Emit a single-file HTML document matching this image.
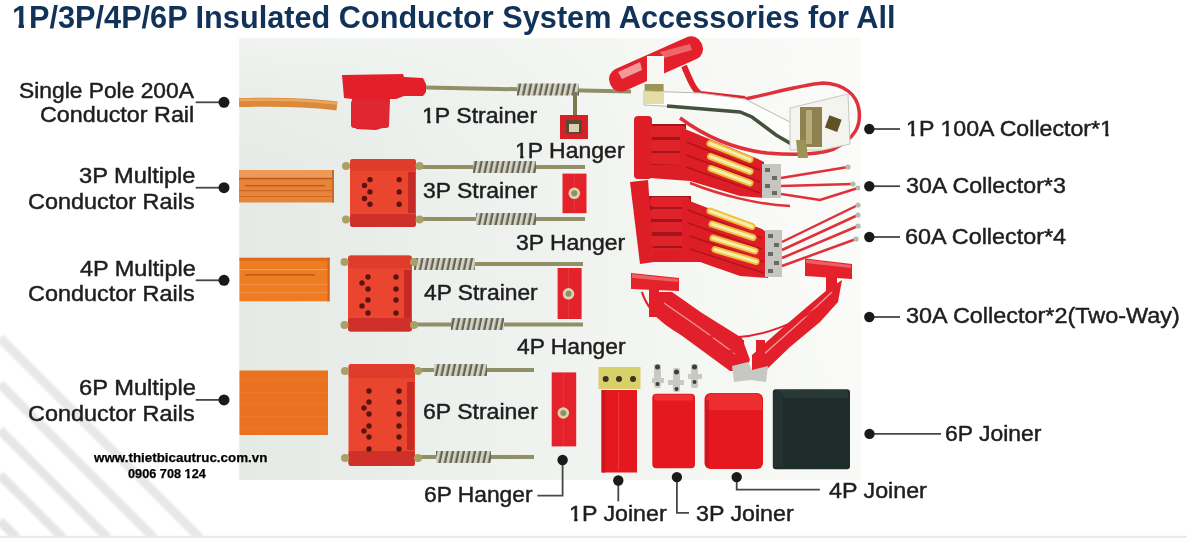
<!DOCTYPE html>
<html><head><meta charset="utf-8"><style>
html,body{margin:0;padding:0;background:#fff;}
#w{position:relative;width:1187px;height:538px;overflow:hidden;background:#fff;font-family:"Liberation Sans",sans-serif;}
.t{position:absolute;white-space:nowrap;transform-origin:0 0;}
svg{position:absolute;left:0;top:0;}
</style></head><body><div id="w">
<svg width="1187" height="538" viewBox="0 0 1187 538">
<defs>
 <linearGradient id="bg" x1="0" y1="0" x2="1" y2="0">
  <stop offset="0" stop-color="#e5eae6"/><stop offset="0.2" stop-color="#e8ede9"/><stop offset="0.35" stop-color="#edf1ed"/><stop offset="0.55" stop-color="#f0f3ef"/><stop offset="0.75" stop-color="#f5f7f3"/><stop offset="1" stop-color="#f9faf7"/>
 </linearGradient>
 <linearGradient id="bgv" x1="0" y1="0" x2="0" y2="1">
  <stop offset="0" stop-color="#f1f4f0" stop-opacity="0.9"/><stop offset="0.12" stop-color="#f1f4f0" stop-opacity="0.45"/><stop offset="0.3" stop-color="#f1f4f0" stop-opacity="0"/>
 </linearGradient>
 <pattern id="spr" width="5.5" height="12" patternUnits="userSpaceOnUse" patternTransform="skewX(-12)">
  <rect width="5.5" height="12" fill="#d4d2c2"/><rect x="3.2" width="2.3" height="12" fill="#626256"/>
 </pattern>
<linearGradient id="sfade" gradientUnits="userSpaceOnUse" x1="0" y1="538" x2="230" y2="300">
  <stop offset="0" stop-color="#fff"/><stop offset="0.55" stop-color="#fff" stop-opacity="0.8"/><stop offset="1" stop-color="#fff" stop-opacity="0"/>
 </linearGradient>
<filter id="sblur" x="-0.1" y="-0.1" width="1.2" height="1.2"><feGaussianBlur stdDeviation="1.2"/></filter>
<linearGradient id="trhl" gradientUnits="userSpaceOnUse" x1="861" y1="38" x2="640" y2="230">
  <stop offset="0" stop-color="#fcfcf9" stop-opacity="0.85"/><stop offset="0.5" stop-color="#fcfcf9" stop-opacity="0.45"/><stop offset="1" stop-color="#fcfcf9" stop-opacity="0"/>
 </linearGradient>
</defs>
<!-- diagonal stripes lower-left -->
<mask id="smask"><rect width="1187" height="538" fill="url(#sfade)"/></mask>
<g stroke="#e4e4e4" stroke-width="9" stroke-linecap="butt" mask="url(#smask)" filter="url(#sblur)">
 <line x1="0" y1="338" x2="200" y2="538"/>
 <line x1="0" y1="384" x2="154" y2="538"/>
 <line x1="0" y1="430" x2="108" y2="538"/>
 <line x1="0" y1="475" x2="63" y2="538"/>
 <line x1="0" y1="521" x2="17" y2="538"/>
</g>
<rect x="0" y="535.8" width="1187" height="2.2" fill="#ebebeb"/>
<!-- photo -->
<rect x="239.3" y="38.5" width="621.7" height="441.5" fill="url(#bg)"/>
<rect x="239.3" y="38.5" width="621.7" height="441.5" fill="url(#bgv)"/>
<rect x="239.3" y="38.5" width="621.7" height="441.5" fill="url(#trhl)"/>
<!-- 1P cable -->
<path d="M239 102.6 Q300 101 337 106" stroke="#dc8a3a" stroke-width="9" fill="none"/>
<path d="M239 100 Q300 98.5 337 103.5" stroke="#eba65e" stroke-width="2.5" fill="none"/>
<!-- 1P strainer -->
<path d="M342 75 L403 74 L404 77 L423 78 L426 84 L426 92 L423 96 L404 96 L396 99 L390 99 L389 126 L376 130 L356 129 L352 99 L344 98 Z" fill="#e3202a"/>
<rect x="351" y="100" width="38" height="28" rx="3" fill="#e02631"/>
<!-- rods -->
<g stroke="#8f8f68" stroke-width="4" fill="none">
 <line x1="426" y1="87.5" x2="631" y2="91.5"/>
 <line x1="414" y1="167" x2="585" y2="167"/>
 <line x1="414" y1="219" x2="585" y2="219"/>
 <line x1="412" y1="264" x2="583" y2="264"/>
 <line x1="412" y1="324.5" x2="583" y2="324.5"/>
 <line x1="414" y1="370" x2="534" y2="370"/>
 <line x1="414" y1="457" x2="534" y2="457"/>
</g>
<!-- springs -->
<g fill="url(#spr)">
 <rect x="517" y="83.5" width="62" height="12"/>
 <rect x="473" y="161" width="63" height="12"/>
 <rect x="476" y="213" width="60" height="12"/>
 <rect x="414" y="258" width="61" height="12"/>
 <rect x="451" y="318" width="53" height="12"/>
 <rect x="434" y="364" width="53" height="12"/>
 <rect x="436" y="451" width="55" height="12"/>
</g>
<!-- rails -->
<g>
 <rect x="239" y="170" width="95" height="32.5" fill="#e8843a"/>
 <rect x="239" y="170" width="95" height="8" fill="#ec9a56"/>
 <rect x="239" y="177.8" width="95" height="1.4" fill="#b9581c"/>
 <rect x="245" y="185" width="80" height="1.4" fill="#b0501c" opacity="0.8"/>
 <rect x="239" y="190.2" width="95" height="1" fill="#c8621e"/>
 <rect x="239" y="196" width="95" height="1" fill="#d06a24"/>
 <rect x="332" y="170" width="2" height="32.5" fill="#c86a2a"/>
</g>
<g>
 <rect x="239.5" y="257.8" width="90" height="43.5" fill="#ee7d22"/>
 <rect x="239.5" y="257.8" width="90" height="3" fill="#e06818"/>
 <rect x="239.5" y="269" width="90" height="1.2" fill="#f6a060"/>
 <rect x="245" y="274" width="70" height="1.6" fill="#b8501a" opacity="0.8"/>
 <rect x="239.5" y="284" width="90" height="1" fill="#f39048"/>
 <rect x="239.5" y="292" width="90" height="1" fill="#f39048"/>
 <rect x="327.5" y="257.8" width="2" height="43.5" fill="#d0601a"/>
</g>
<g>
 <rect x="239.5" y="370.5" width="88.5" height="64.5" fill="#e9711f"/>
 <rect x="239.5" y="380" width="88.5" height="1" fill="#f08a3a" opacity="0.35"/>
 <rect x="239.5" y="392" width="88.5" height="1" fill="#f08a3a" opacity="0.35"/>
 <rect x="239.5" y="404" width="88.5" height="1" fill="#f08a3a" opacity="0.35"/>
 <rect x="239.5" y="416" width="88.5" height="1" fill="#f08a3a" opacity="0.35"/>
 <rect x="239.5" y="428" width="88.5" height="1" fill="#f08a3a" opacity="0.35"/>
</g>
<!-- strainer blocks -->
<g fill="#e9452f">
 <rect x="350" y="159" width="66" height="68" rx="3"/>
 <rect x="348" y="255.5" width="64" height="76" rx="3"/>
 <rect x="348.5" y="364" width="66.5" height="102" rx="3"/>
</g>
<g fill="#c52a26">
 <rect x="408" y="172" width="7" height="41"/>
 <rect x="404" y="270" width="7" height="48"/>
 <rect x="407" y="382" width="7" height="68"/>
</g>
<g fill="#df3b2b" opacity="0.8">
 <rect x="350" y="159" width="66" height="12" rx="3"/>
 <rect x="348" y="255.5" width="64" height="13" rx="3"/>
 <rect x="348.5" y="364" width="66.5" height="14" rx="3"/>
</g>
<g fill="#d0302a">
 <rect x="350" y="214" width="66" height="13" rx="3"/>
 <rect x="348" y="318" width="64" height="13.5" rx="3"/>
 <rect x="348.5" y="451" width="66.5" height="15" rx="3"/>
</g>
<!-- bolts -->
<g fill="#a8a064">
 <circle cx="346" cy="166" r="4"/><circle cx="346" cy="219.5" r="4"/><circle cx="419.5" cy="166" r="4"/><circle cx="419.5" cy="219.5" r="4"/>
 <circle cx="344.5" cy="262" r="4"/><circle cx="344.5" cy="325" r="4"/><circle cx="414" cy="262" r="4"/><circle cx="414" cy="325" r="4"/>
 <circle cx="345" cy="371" r="4"/><circle cx="345" cy="458" r="4"/><circle cx="418" cy="371" r="4"/><circle cx="418" cy="458" r="4"/>
</g>
<!-- holes -->
<g fill="#5a1410">
 <circle cx="370" cy="179.6" r="2.7"/><circle cx="364.5" cy="185.5" r="2.7"/><circle cx="370" cy="191.9" r="2.7"/><circle cx="364.5" cy="198.5" r="2.7"/><circle cx="370" cy="204.2" r="2.7"/>
 <circle cx="399.2" cy="179.6" r="2.7"/><circle cx="399.2" cy="191.9" r="2.7"/><circle cx="399.2" cy="204.2" r="2.7"/>
 <circle cx="368" cy="277" r="2.7"/><circle cx="362" cy="283" r="2.7"/><circle cx="368" cy="289" r="2.7"/><circle cx="368" cy="300" r="2.7"/><circle cx="362" cy="306" r="2.7"/><circle cx="368" cy="313" r="2.7"/>
 <circle cx="396" cy="277" r="2.7"/><circle cx="396" cy="289" r="2.7"/><circle cx="396" cy="300" r="2.7"/><circle cx="396" cy="313" r="2.7"/>
 <circle cx="369" cy="391" r="2.7"/><circle cx="369" cy="402" r="2.7"/><circle cx="364" cy="408" r="2.7"/><circle cx="369" cy="414" r="2.7"/><circle cx="369" cy="426" r="2.7"/><circle cx="364" cy="431" r="2.7"/><circle cx="369" cy="437" r="2.7"/><circle cx="369" cy="449" r="2.7"/>
 <circle cx="399" cy="391" r="2.7"/><circle cx="399" cy="402" r="2.7"/><circle cx="399" cy="414" r="2.7"/><circle cx="399" cy="426" r="2.7"/><circle cx="399" cy="437" r="2.7"/><circle cx="399" cy="449" r="2.7"/>
</g>
<!-- hangers -->
<line x1="575" y1="92" x2="575" y2="116" stroke="#7c7a4c" stroke-width="4"/>
<rect x="560" y="115" width="28" height="24" fill="#d8202a"/>
<rect x="566" y="120" width="16" height="14" fill="#5a4a30"/>
<rect x="569" y="124" width="10" height="8" fill="#d8d0b0"/>
<rect x="562.5" y="173.6" width="24" height="39.6" fill="#e3222c"/>
<line x1="574.3" y1="174" x2="574.3" y2="213" stroke="#f0555a" stroke-width="0.8" opacity="0.5"/><circle cx="574.3" cy="193.3" r="5.8" fill="#ddd3a8"/><circle cx="574.3" cy="193.3" r="3" fill="#8d9070"/>
<rect x="557.6" y="268" width="24" height="51" fill="#e3222c"/>
<line x1="568.5" y1="268.5" x2="568.5" y2="318.5" stroke="#f0555a" stroke-width="0.8" opacity="0.5"/><circle cx="568.5" cy="293.8" r="5.8" fill="#ddd3a8"/><circle cx="568.5" cy="293.8" r="3" fill="#8d9070"/>
<rect x="551.7" y="372.4" width="24.5" height="74" fill="#e3222c"/>
<line x1="563.3" y1="373" x2="563.3" y2="446" stroke="#f0555a" stroke-width="0.8" opacity="0.5"/><circle cx="563.3" cy="413" r="5.8" fill="#ddd3a8"/><circle cx="563.3" cy="413" r="3" fill="#8d9070"/>
<!-- 1P 100A collector -->
<g stroke="#e0303a" stroke-width="3.5" fill="none">
 <path d="M745 99 C770 94 800 85 823 83 C845 84 857 95 859 110 C861 125 856 138 834 149 C815 156 790 155 767 153 C740 150 710 140 680 118"/>
</g>
<path d="M684 66 C690 80 694 90 700 94 L745 99" stroke="#e0202b" stroke-width="6" fill="none"/>
<rect x="606" y="52" width="100" height="24" rx="11" fill="#e3202b" transform="rotate(-24 656 64)"/>
<path d="M618 72 L640 62 L642 70 L622 79 Z" fill="#f6b8b8" opacity="0.8"/>
<path d="M660 52 L690 44 L692 50 L664 58 Z" fill="#f08888" opacity="0.7"/>
<rect x="647" y="56" width="17" height="30" fill="#f6f6f2"/>
<rect x="644.6" y="84" width="19" height="7" fill="#9c9456"/>
<path d="M644 91 L700 93 L745 99 L786 120 L810 132 L813 140 L806 144 L786 141 L745 113 L700 108 L644 105 Z" fill="#fdfdfb" stroke="#b9b9b0" stroke-width="1"/>
<path d="M644 92 L664 92 L664 104 L644 104 Z" fill="#e2dea6"/>
<path d="M667 106 L740 112 L752 117 L776 135 L800 149" stroke="#46503e" stroke-width="3.5" fill="none"/>
<path d="M790 108 L848 94 L850 144 L823 150 L790 150 Z" fill="#f4f4ef" stroke="#c8c8c0" stroke-width="1"/>
<rect x="800" y="107" width="22" height="40" fill="#8f8250"/>
<rect x="806" y="110" width="6" height="34" fill="#b8ad7c"/>
<rect x="827" y="117" width="13" height="13" fill="#5f5224" transform="rotate(20 833 123)"/>
<path d="M796 140 L806 140 L808 158 L798 158 Z" fill="#9c9456"/>
<!-- 30A collector *3 -->
<rect x="640" y="124" width="46" height="42" fill="#a3141c"/>
<rect x="634" y="116" width="18" height="63" rx="4" fill="#de1e27"/>
<g fill="#e0222b">
 <rect x="650" y="126" width="36" height="11" rx="4"/><rect x="650" y="140" width="36" height="11" rx="4"/><rect x="650" y="153" width="36" height="11" rx="4"/>
</g>
<path d="M680 127 L758 159 L764 162 L765 198 L740 196 L690 181 L650 178 L650 165 L680 164 Z" fill="#de1e27"/>
<g stroke="#a8121a" stroke-width="1.6" opacity="0.8">
 <line x1="686" y1="142" x2="760" y2="170"/><line x1="686" y1="155" x2="760" y2="182"/><line x1="686" y1="167" x2="760" y2="193"/>
</g>
<g stroke="#f0bc3c" stroke-width="7" stroke-linecap="round">
 <line x1="710" y1="143.5" x2="750" y2="159.5"/>
 <line x1="710.5" y1="156.5" x2="750" y2="171.5"/>
 <line x1="711" y1="168.5" x2="750" y2="183"/>
</g>
<g stroke="#f4eeaa" stroke-width="3.2" stroke-linecap="round">
 <line x1="710" y1="143.5" x2="750" y2="159.5"/>
 <line x1="710.5" y1="156.5" x2="750" y2="171.5"/>
 <line x1="711" y1="168.5" x2="750" y2="183"/>
</g>
<rect x="762" y="164" width="19" height="34" fill="#c6c6c0"/>
<g fill="#6a6a62"><rect x="765" y="168" width="5" height="4"/><rect x="772" y="176" width="5" height="4"/><rect x="765" y="184" width="5" height="4"/><rect x="772" y="191" width="5" height="4"/></g>
<g stroke="#e0303a" stroke-width="2.5" fill="none">
 <path d="M781 178 L848 167"/><path d="M781 186 L853 184"/><path d="M781 194 L820 200 L858 188"/>
 <path d="M690 183 C720 195 760 205 790 206"/>
</g>
<g fill="#b8b8b0"><circle cx="848" cy="167" r="2.6"/><circle cx="853" cy="184" r="2.6"/><circle cx="858" cy="188" r="2.4"/></g>
<!-- 60A collector *4 -->
<rect x="645" y="196" width="46" height="63" fill="#a3141c"/>
<path d="M630 182 L648 180 L654 262 L640 264 Z" fill="#de1e27"/>
<g fill="#e0222b">
 <rect x="650" y="197" width="40" height="10" rx="4"/><rect x="650" y="209" width="40" height="10" rx="4"/><rect x="650" y="222" width="40" height="10" rx="4"/><rect x="650" y="236" width="40" height="10" rx="4"/><rect x="650" y="248" width="40" height="10" rx="4"/>
</g>
<path d="M682 198 L762 229 L766 232 L768 278 L740 276 L700 262 L652 262 L652 250 L682 250 Z" fill="#de1e27"/>
<g stroke="#a8121a" stroke-width="1.6" opacity="0.8">
 <line x1="688" y1="210" x2="762" y2="238"/><line x1="688" y1="223" x2="762" y2="249"/><line x1="690" y1="236" x2="764" y2="262"/><line x1="690" y1="249" x2="764" y2="273"/>
</g>
<g stroke="#f0bc3c" stroke-width="7" stroke-linecap="round">
 <line x1="710" y1="211" x2="752" y2="226.5"/>
 <line x1="712" y1="224" x2="753" y2="237.5"/>
 <line x1="713" y1="238" x2="755" y2="251"/>
 <line x1="715" y1="249.5" x2="756" y2="261.5"/>
</g>
<g stroke="#f4eeaa" stroke-width="3.2" stroke-linecap="round">
 <line x1="710" y1="211" x2="752" y2="226.5"/>
 <line x1="712" y1="224" x2="753" y2="237.5"/>
 <line x1="713" y1="238" x2="755" y2="251"/>
 <line x1="715" y1="249.5" x2="756" y2="261.5"/>
</g>
<rect x="765" y="230" width="17" height="47" fill="#c6c6c0"/>
<g fill="#6a6a62"><rect x="768" y="234" width="5" height="4"/><rect x="774" y="243" width="5" height="4"/><rect x="768" y="252" width="5" height="4"/><rect x="774" y="261" width="5" height="4"/><rect x="768" y="269" width="5" height="4"/></g>
<g stroke="#e0303a" stroke-width="2.5" fill="none">
 <path d="M782 242 L858 205"/><path d="M782 250 L858 215"/><path d="M782 258 L858 226"/><path d="M782 266 L856 239"/>
</g>
<g fill="#b8b8b0"><circle cx="858" cy="205" r="2.6"/><circle cx="858" cy="215" r="2.6"/><circle cx="858" cy="226" r="2.6"/><circle cx="856" cy="239" r="2.6"/></g>
<!-- two-way collector -->
<path d="M631 273 L679 278 L679 291 L631 289 Z" fill="#e3222c"/>
<path d="M632 274 L678 279 L678 282 L632 278 Z" fill="#f07a7a" opacity="0.7"/>
<path d="M805 258.6 L852 264 L852 279 L805 276 Z" fill="#e3222c"/>
<path d="M806 259.5 L851 265 L851 268 L806 263 Z" fill="#f07a7a" opacity="0.7"/>
<rect x="649" y="289" width="10" height="28" fill="#e1202b"/>
<rect x="826" y="277" width="11" height="24" fill="#e1202b"/>
<path d="M659 292 L672 292 L702 313 L742 338 L750 360 L744 371 L730 371 L700 349 L670 327 L652 312 Z" fill="#e1202b"/>
<path d="M827 290 L842 280 L838 302 L820 322 L790 347 L766 370 L752 370 L752 355 L780 330 L808 306 Z" fill="#e1202b"/>
<path d="M664 303 L700 328 L738 356" stroke="#f6b0b0" stroke-width="1.4" fill="none" opacity="0.8"/>
<path d="M832 292 L800 322 L762 356" stroke="#f6b0b0" stroke-width="1.4" fill="none" opacity="0.8"/>
<path d="M642 292 C650 320 690 345 735 352" stroke="#e1202b" stroke-width="2.2" fill="none"/>
<rect x="735" y="340" width="9" height="30" fill="#e1202b"/><rect x="756" y="340" width="9" height="30" fill="#e1202b"/>
<path d="M655 315 C700 345 760 350 830 300" stroke="#e1202b" stroke-width="2" fill="none"/>
<path d="M732 366 L748 362 L752 370 L768 366 L766 382 L750 380 L734 382 Z" fill="#c8c8c2"/>
<!-- joiners -->
<rect x="598.5" y="367" width="42" height="22" fill="#d9d06a"/>
<circle cx="605.7" cy="379" r="3" fill="#3a3320"/><circle cx="619" cy="379" r="3" fill="#3a3320"/><circle cx="633" cy="379" r="3" fill="#3a3320"/>
<rect x="601.5" y="390" width="35.5" height="82.5" fill="#e5171f"/>
<rect x="601.5" y="390" width="4" height="82.5" fill="#c9141c" opacity="0.8"/>
<rect x="618" y="392" width="1.2" height="78" fill="#f04a4a" opacity="0.6"/>
<g fill="#c9c9c3">
 <rect x="654" y="364" width="7" height="24" rx="2"/><rect x="652" y="378" width="12" height="5"/>
 <rect x="673" y="368" width="7" height="24" rx="2"/><rect x="668" y="380" width="16" height="5"/>
 <rect x="691" y="364" width="7" height="24" rx="2"/><rect x="688" y="374" width="14" height="5"/>
</g>
<g fill="#3c3c38">
 <circle cx="657.5" cy="367" r="2.5"/><circle cx="657.5" cy="384" r="2"/>
 <circle cx="676.5" cy="372" r="2.5"/><circle cx="676.5" cy="389" r="2"/>
 <circle cx="694.5" cy="367" r="2.5"/><circle cx="694.5" cy="382" r="2"/>
</g>
<rect x="652.3" y="393.7" width="42.7" height="74.5" rx="4" fill="#e5171f"/>
<rect x="654" y="394.5" width="39" height="6" rx="2" fill="#ef3a3c" opacity="0.8"/>
<rect x="704.5" y="393" width="58.5" height="76" rx="6" fill="#e5171f"/>
<path d="M708 395 Q710 393.5 716 393.5 L756 393.5 Q761 394 762 400 L762 410 L706 410 L706 400 Z" fill="#ee3134" opacity="0.85"/>
<rect x="705" y="400" width="4" height="66" fill="#c9141c" opacity="0.7"/>
<rect x="772.8" y="389.3" width="77.2" height="80" rx="3" fill="#1e2c2a"/>
<path d="M776 390 L847 390 L849 398 L785 398 Z" fill="#2a3937"/>
<rect x="773" y="392" width="10" height="75" fill="#243331"/>
<!-- leader lines -->
<g stroke="#474747" stroke-width="1.8" fill="none">
 <line x1="195.7" y1="102.3" x2="224" y2="102.3"/>
 <line x1="195.7" y1="187.7" x2="224" y2="187.7"/>
 <line x1="195.7" y1="280.3" x2="224" y2="280.3"/>
 <line x1="195.7" y1="399.9" x2="224" y2="399.9"/>
 <line x1="869" y1="129" x2="900" y2="129"/>
 <line x1="869" y1="186.2" x2="900" y2="186.2"/>
 <line x1="869" y1="237" x2="900" y2="237"/>
 <line x1="869" y1="317" x2="900" y2="317"/>
 <line x1="869" y1="433.9" x2="941" y2="433.9"/>
 <polyline points="562.6,460 562.6,495.7 537.4,495.7"/>
 <polyline points="618.3,480.5 618.3,501.4"/>
 <polyline points="676.9,477.1 676.9,512.8 689,512.8"/>
 <polyline points="736.7,477.1 736.7,489.6 819.8,489.6"/>
</g>
<g fill="#1a1a1a">
 <circle cx="224" cy="102.3" r="5.5"/><circle cx="224" cy="187.7" r="5.5"/><circle cx="224" cy="280.3" r="5.5"/><circle cx="224" cy="399.9" r="5.5"/>
 <circle cx="869.3" cy="129" r="5.2"/><circle cx="869.3" cy="186.2" r="5.2"/><circle cx="869.3" cy="237" r="5.2"/><circle cx="869.3" cy="317" r="5.2"/><circle cx="869.5" cy="433.9" r="5.2"/>
 <circle cx="562.6" cy="460" r="5.2"/><circle cx="618.3" cy="480.5" r="5.2"/><circle cx="676.9" cy="477.1" r="5.2"/><circle cx="736.7" cy="477.1" r="5.2"/>
</g>
</svg>

<div class="t" style="left:12.31px;top:2.46px;font-size:31px;line-height:31px;font-weight:bold;color:#11335a;transform:scaleX(0.9894)"><span style="display:inline-block;clip-path:polygon(-2px -2px,19.24px -2px,19.24px 20.48px,12.09px 20.48px,12.09px 35.00px,6.64px 35.00px,6.64px 20.48px,-2px 20.48px)">1</span>P/3P/4P/6P Insulated Conductor System Accessories for All</div><div class="t" style="left:19.20px;top:80.80px;font-size:21.5px;line-height:21.5px;font-weight:normal;color:#1e1e1e;transform:scaleX(1.0603);-webkit-text-stroke:0.45px #1e1e1e">Single Pole 200A</div><div class="t" style="left:40.42px;top:105.10px;font-size:21.5px;line-height:21.5px;font-weight:normal;color:#1e1e1e;transform:scaleX(1.0845);-webkit-text-stroke:0.45px #1e1e1e">Conductor Rail</div><div class="t" style="left:78.80px;top:166.10px;font-size:21.5px;line-height:21.5px;font-weight:normal;color:#1e1e1e;transform:scaleX(1.0996);-webkit-text-stroke:0.45px #1e1e1e">3P Multiple</div><div class="t" style="left:28.31px;top:191.60px;font-size:21.5px;line-height:21.5px;font-weight:normal;color:#1e1e1e;transform:scaleX(1.0892);-webkit-text-stroke:0.45px #1e1e1e">Conductor Rails</div><div class="t" style="left:79.60px;top:258.80px;font-size:21.5px;line-height:21.5px;font-weight:normal;color:#1e1e1e;transform:scaleX(1.0920);-webkit-text-stroke:0.45px #1e1e1e">4P Multiple</div><div class="t" style="left:28.31px;top:284.00px;font-size:21.5px;line-height:21.5px;font-weight:normal;color:#1e1e1e;transform:scaleX(1.0892);-webkit-text-stroke:0.45px #1e1e1e">Conductor Rails</div><div class="t" style="left:78.50px;top:378.20px;font-size:21.5px;line-height:21.5px;font-weight:normal;color:#1e1e1e;transform:scaleX(1.1025);-webkit-text-stroke:0.45px #1e1e1e">6P Multiple</div><div class="t" style="left:28.31px;top:403.50px;font-size:21.5px;line-height:21.5px;font-weight:normal;color:#1e1e1e;transform:scaleX(1.0892);-webkit-text-stroke:0.45px #1e1e1e">Conductor Rails</div><div class="t" style="left:422.23px;top:106.20px;font-size:21.5px;line-height:21.5px;font-weight:normal;color:#1e1e1e;transform:scaleX(1.0743);-webkit-text-stroke:0.45px #1e1e1e"><span style="display:inline-block;clip-path:polygon(-2px -2px,13.96px -2px,13.96px 13.99px,7.91px 13.99px,7.91px 25.50px,4.81px 25.50px,4.81px 13.99px,-2px 13.99px)">1</span>P Strainer</div><div class="t" style="left:515.23px;top:140.90px;font-size:21.5px;line-height:21.5px;font-weight:normal;color:#1e1e1e;transform:scaleX(1.0696);-webkit-text-stroke:0.45px #1e1e1e"><span style="display:inline-block;clip-path:polygon(-2px -2px,13.96px -2px,13.96px 13.99px,7.91px 13.99px,7.91px 25.50px,4.81px 25.50px,4.81px 13.99px,-2px 13.99px)">1</span>P Hanger</div><div class="t" style="left:423.20px;top:180.60px;font-size:21.5px;line-height:21.5px;font-weight:normal;color:#1e1e1e;transform:scaleX(1.0671);-webkit-text-stroke:0.45px #1e1e1e">3P Strainer</div><div class="t" style="left:516.30px;top:232.50px;font-size:21.5px;line-height:21.5px;font-weight:normal;color:#1e1e1e;transform:scaleX(1.0670);-webkit-text-stroke:0.45px #1e1e1e">3P Hanger</div><div class="t" style="left:423.50px;top:283.10px;font-size:21.5px;line-height:21.5px;font-weight:normal;color:#1e1e1e;transform:scaleX(1.0606);-webkit-text-stroke:0.45px #1e1e1e">4P Strainer</div><div class="t" style="left:516.50px;top:336.60px;font-size:21.5px;line-height:21.5px;font-weight:normal;color:#1e1e1e;transform:scaleX(1.0602);-webkit-text-stroke:0.45px #1e1e1e">4P Hanger</div><div class="t" style="left:422.63px;top:402.10px;font-size:21.5px;line-height:21.5px;font-weight:normal;color:#1e1e1e;transform:scaleX(1.0715);-webkit-text-stroke:0.45px #1e1e1e">6P Strainer</div><div class="t" style="left:423.54px;top:485.40px;font-size:21.5px;line-height:21.5px;font-weight:normal;color:#1e1e1e;transform:scaleX(1.0598);-webkit-text-stroke:0.45px #1e1e1e">6P Hanger</div><div class="t" style="left:569.22px;top:503.50px;font-size:21.5px;line-height:21.5px;font-weight:normal;color:#1e1e1e;transform:scaleX(1.0795);-webkit-text-stroke:0.45px #1e1e1e"><span style="display:inline-block;clip-path:polygon(-2px -2px,13.96px -2px,13.96px 13.99px,7.91px 13.99px,7.91px 25.50px,4.81px 25.50px,4.81px 13.99px,-2px 13.99px)">1</span>P Joiner</div><div class="t" style="left:695.90px;top:503.60px;font-size:21.5px;line-height:21.5px;font-weight:normal;color:#1e1e1e;transform:scaleX(1.0797);-webkit-text-stroke:0.45px #1e1e1e">3P Joiner</div><div class="t" style="left:828.70px;top:480.90px;font-size:21.5px;line-height:21.5px;font-weight:normal;color:#1e1e1e;transform:scaleX(1.0820);-webkit-text-stroke:0.45px #1e1e1e">4P Joiner</div><div class="t" style="left:905.72px;top:118.90px;font-size:21.5px;line-height:21.5px;font-weight:normal;color:#1e1e1e;transform:scaleX(1.0774);-webkit-text-stroke:0.45px #1e1e1e"><span style="display:inline-block;clip-path:polygon(-2px -2px,13.96px -2px,13.96px 13.99px,7.91px 13.99px,7.91px 25.50px,4.81px 25.50px,4.81px 13.99px,-2px 13.99px)">1</span>P <span style="display:inline-block;clip-path:polygon(-2px -2px,13.96px -2px,13.96px 13.99px,7.91px 13.99px,7.91px 25.50px,4.81px 25.50px,4.81px 13.99px,-2px 13.99px)">1</span>00A Collector*<span style="display:inline-block;clip-path:polygon(-2px -2px,13.96px -2px,13.96px 13.99px,7.91px 13.99px,7.91px 25.50px,4.81px 25.50px,4.81px 13.99px,-2px 13.99px)">1</span></div><div class="t" style="left:905.50px;top:176.10px;font-size:21.5px;line-height:21.5px;font-weight:normal;color:#1e1e1e;transform:scaleX(1.0781);-webkit-text-stroke:0.45px #1e1e1e">30A Collector*3</div><div class="t" style="left:905.21px;top:226.80px;font-size:21.5px;line-height:21.5px;font-weight:normal;color:#1e1e1e;transform:scaleX(1.0867);-webkit-text-stroke:0.45px #1e1e1e">60A Collector*4</div><div class="t" style="left:905.80px;top:306.20px;font-size:21.5px;line-height:21.5px;font-weight:normal;color:#1e1e1e;transform:scaleX(1.0894);-webkit-text-stroke:0.45px #1e1e1e">30A Collector*2(Two-Way)</div><div class="t" style="left:945.33px;top:423.60px;font-size:21.5px;line-height:21.5px;font-weight:normal;color:#1e1e1e;transform:scaleX(1.0661);-webkit-text-stroke:0.45px #1e1e1e">6P Joiner</div><div class="t" style="left:93.83px;top:450.60px;font-size:13px;line-height:13px;font-weight:bold;color:#000000;transform:scaleX(1.0289);-webkit-text-stroke:0.25px #000000">www.thietbicautruc.com.vn</div><div class="t" style="left:128.30px;top:466.50px;font-size:13px;line-height:13px;font-weight:bold;color:#000000;transform:scaleX(0.9777);-webkit-text-stroke:0.25px #000000">0906 708 <span style="display:inline-block;clip-path:polygon(-2px -2px,9.23px -2px,9.23px 7.08px,5.42px 7.08px,5.42px 17.00px,2.43px 17.00px,2.43px 7.08px,-2px 7.08px)">1</span>24</div>
</div></body></html>
